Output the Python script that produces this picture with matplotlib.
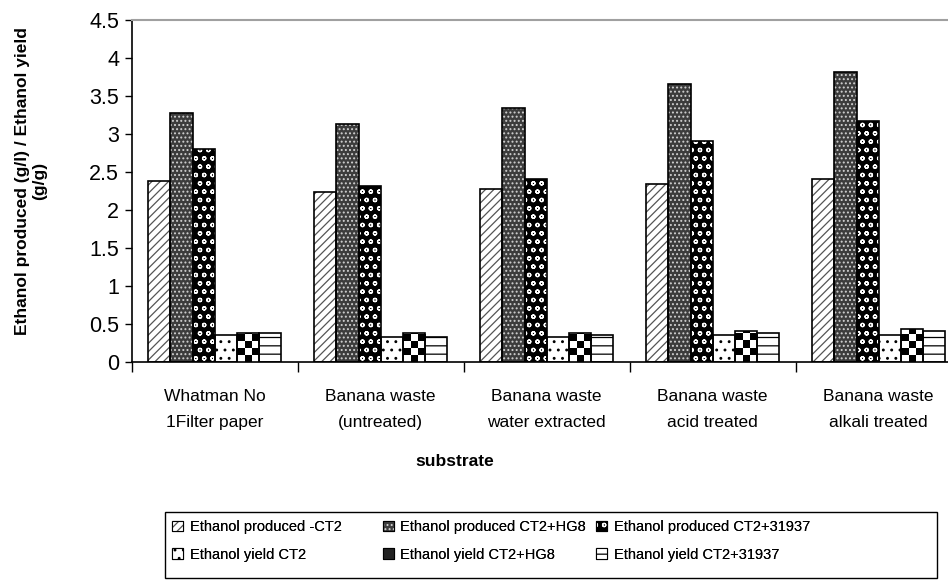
import numpy as np
import matplotlib
matplotlib.use("Agg")
import matplotlib.pyplot as plt
from matplotlib import font_manager
from matplotlib.patches import Patch, Rectangle
from matplotlib.ticker import FuncFormatter, FixedLocator

plt.rcParams["font.family"] = ["Liberation Sans", "DejaVu Sans"]
plt.rcParams["hatch.linewidth"] = 0.9

categories = [
    "Whatman No\n1Filter paper",
    "Banana waste\n(untreated)",
    "Banana waste\nwater extracted",
    "Banana waste\nacid treated",
    "Banana waste\nalkali treated",
]
series_names = [
    "Ethanol produced -CT2",
    "Ethanol produced CT2+HG8",
    "Ethanol produced CT2+31937",
    "Ethanol yield CT2",
    "Ethanol yield CT2+HG8",
    "Ethanol yield CT2+31937",
]
prod_ct2 = [2.38, 2.24, 2.28, 2.34, 2.41]
prod_hg8 = [3.27, 3.13, 3.34, 3.66, 3.81]
prod_31937 = [2.80, 2.31, 2.41, 2.91, 3.17]
yield_ct2 = [0.35, 0.33, 0.33, 0.35, 0.35]
yield_hg8 = [0.38, 0.38, 0.38, 0.41, 0.43]
yield_31937 = [0.38, 0.33, 0.35, 0.38, 0.40]
series = [prod_ct2, prod_hg8, prod_31937, yield_ct2, yield_hg8, yield_31937]

# (face, hatch, hatch colour) per series; the 5th one is a checkerboard drawn separately
styles = [
    ("white", "////", "#555555"),
    ("#3c3c3c", "....", "#d0d0d0"),
    ("black", "oo", "white"),
    ("white", "..", "black"),
    ("white", "", "black"),
    ("white", "--", "black"),
]

# the legend text in the reference is condensed; use the narrow face if there is one
names = {f.name for f in font_manager.fontManager.ttflist}
if "Liberation Sans Narrow" in names:
    leg_font = {"family": "Liberation Sans Narrow", "size": 12}
else:
    leg_font = {"family": "Liberation Sans", "size": 10.5}

W, H = 948, 581
fig = plt.figure(figsize=(W / 100, H / 100), dpi=100)
ax = fig.add_axes([131.7 / W, 1 - 361.7 / H, 830 / W, (361.7 - 20) / H])

x = np.arange(len(categories))
bw = 1 / 7.5
handles = []
for i, (vals, (face, hatch, hcol)) in enumerate(zip(series, styles)):
    pos = x + (i - 2.5) * bw
    fill = ax.bar(pos, vals, bw, color=face, hatch=hatch, edgecolor=hcol, linewidth=0, zorder=2)
    ax.bar(pos, vals, bw, fill=False, edgecolor="black", linewidth=1.2, zorder=4)
    if i == 4:
        # checkerboard pattern clipped to each bar
        cell = 0.092
        for p in fill.patches:
            rows = int(np.ceil(p.get_height() / cell))
            board = np.indices((rows, 3)).sum(axis=0) % 2
            im = ax.imshow(board[::-1], cmap="gray_r", vmin=0, vmax=1, interpolation="nearest",
                           extent=(p.get_x(), p.get_x() + p.get_width(), 0, rows * cell),
                           aspect="auto", zorder=3)
            im.set_clip_path(p)
        handles.append(Patch(facecolor="#222222", edgecolor="black", linewidth=0.8))
    else:
        handles.append((Patch(facecolor=face, hatch=hatch, edgecolor=hcol, linewidth=0),
                        Patch(fill=False, edgecolor="black", linewidth=0.8)))

ax.set_xlim(-0.5, len(categories) - 0.5)
ax.set_ylim(0, 4.5)
ax.set_yticks(np.arange(0, 4.51, 0.5))
ax.yaxis.set_major_formatter(FuncFormatter(lambda v, _: f"{v:g}"))
ax.tick_params(axis="y", direction="out", length=5, width=1, labelsize=15.5, pad=4)

ax.set_xticks(x)
ax.set_xticklabels(categories, fontsize=12.5, linespacing=1.9)
ax.xaxis.set_minor_locator(FixedLocator(np.arange(-0.5, len(categories), 1.0)))
ax.tick_params(axis="x", which="major", length=0, pad=20)
ax.tick_params(axis="x", which="minor", direction="out", length=7, width=1)

for s in ("left", "bottom"):
    ax.spines[s].set_color("black")
    ax.spines[s].set_linewidth(1.2)
ax.spines["top"].set_color("#a0a0a0")
ax.spines["top"].set_linewidth(1.5)
ax.spines["right"].set_visible(False)

fig.text(31 / W, 1 - 181 / H, "Ethanol produced (g/l) / Ethanol yield\n(g/g)",
         rotation=90, ha="center", va="center", multialignment="center",
         fontsize=12.5, fontweight="bold", linespacing=1.2)
fig.text(455 / W, 1 - 461 / H, "substrate", ha="center", va="center",
         fontsize=12.5, fontweight="bold")

# legend: equal-width columns (one small legend per column) inside a shared frame
fig.patches.append(Rectangle((165 / W, 1 - 578 / H), 772 / W, 66 / H, transform=fig.transFigure,
                             fill=False, edgecolor="black", linewidth=1.0))
col_x = [172, 383, 596]
for c, cx in enumerate(col_x):
    idx = [c, c + 3]
    leg = fig.legend([handles[k] for k in idx], [series_names[k] for k in idx],
                     loc="upper left", bbox_to_anchor=(cx / W, 1 - 520 / H),
                     ncol=1, prop=leg_font, frameon=False, borderaxespad=0, borderpad=0,
                     handlelength=0.75, handleheight=0.75, handletextpad=0.45,
                     labelspacing=0.95)
    fig.add_artist(leg)

fig.savefig("out.png", dpi=100)
